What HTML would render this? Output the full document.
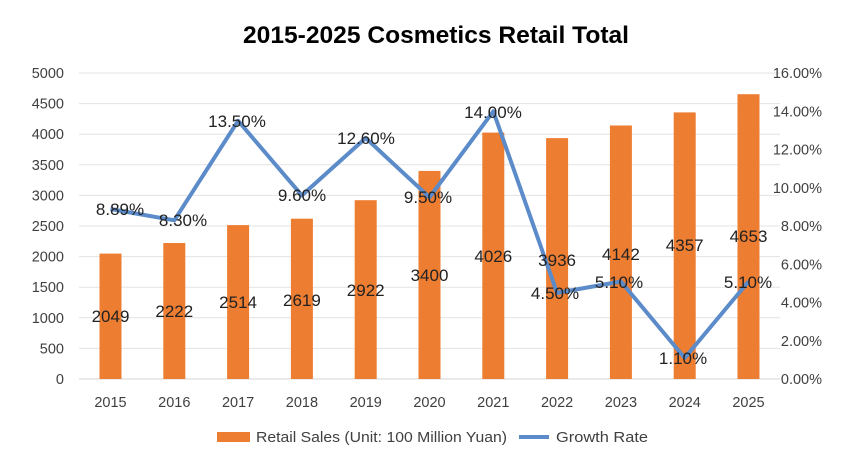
<!DOCTYPE html>
<html><head><meta charset="utf-8"><style>
html,body{margin:0;padding:0;background:#fff;}
svg{display:block;font-family:"Liberation Sans",sans-serif;}
</style></head><body>
<svg width="849" height="453" viewBox="0 0 849 453">
<text x="436" y="43" text-anchor="middle" font-size="24" font-weight="bold" fill="#000" textLength="386" lengthAdjust="spacingAndGlyphs">2015-2025 Cosmetics Retail Total</text>
<g stroke="#e3e3e3" stroke-width="1">
<line x1="79" y1="73" x2="780" y2="73"/><line x1="79" y1="103.6" x2="780" y2="103.6"/>
<line x1="79" y1="134.2" x2="780" y2="134.2"/><line x1="79" y1="164.8" x2="780" y2="164.8"/>
<line x1="79" y1="195.4" x2="780" y2="195.4"/><line x1="79" y1="226" x2="780" y2="226"/>
<line x1="79" y1="256.6" x2="780" y2="256.6"/><line x1="79" y1="287.2" x2="780" y2="287.2"/>
<line x1="79" y1="317.8" x2="780" y2="317.8"/><line x1="79" y1="348.4" x2="780" y2="348.4"/>
</g>
<line x1="79" y1="379" x2="780" y2="379" stroke="#d4d4d4" stroke-width="1"/>
<g font-size="14.5" fill="#404040" text-anchor="end">
<text x="64" y="78">5000</text><text x="64" y="108.6">4500</text><text x="64" y="139.2">4000</text>
<text x="64" y="169.8">3500</text><text x="64" y="200.4">3000</text><text x="64" y="231">2500</text>
<text x="64" y="261.6">2000</text><text x="64" y="292.2">1500</text><text x="64" y="322.8">1000</text>
<text x="64" y="353.4">500</text><text x="64" y="384">0</text>
</g>
<g font-size="14.5" fill="#404040" text-anchor="end">
<text x="822" y="78">16.00%</text><text x="822" y="116.3">14.00%</text><text x="822" y="154.5">12.00%</text>
<text x="822" y="192.8">10.00%</text><text x="822" y="231">8.00%</text><text x="822" y="269.3">6.00%</text>
<text x="822" y="307.5">4.00%</text><text x="822" y="345.8">2.00%</text><text x="822" y="384">0.00%</text>
</g>
<g fill="#ed7d31">
<rect x="99.5" y="253.6" width="22" height="125.4"/>
<rect x="163.3" y="243" width="22" height="136"/>
<rect x="227.1" y="225.1" width="22" height="153.9"/>
<rect x="290.9" y="218.7" width="22" height="160.3"/>
<rect x="354.7" y="200.2" width="22" height="178.8"/>
<rect x="418.5" y="170.9" width="22" height="208.1"/>
<rect x="482.3" y="132.6" width="22" height="246.4"/>
<rect x="546.1" y="138.1" width="22" height="240.9"/>
<rect x="609.9" y="125.5" width="22" height="253.5"/>
<rect x="673.7" y="112.4" width="22" height="266.6"/>
<rect x="737.5" y="94.2" width="22" height="284.8"/>
</g>
<g font-size="14.5" fill="#404040" text-anchor="middle">
<text x="110.5" y="407">2015</text><text x="174.3" y="407">2016</text><text x="238.1" y="407">2017</text>
<text x="301.9" y="407">2018</text><text x="365.7" y="407">2019</text><text x="429.5" y="407">2020</text>
<text x="493.3" y="407">2021</text><text x="557.1" y="407">2022</text><text x="620.9" y="407">2023</text>
<text x="684.7" y="407">2024</text><text x="748.5" y="407">2025</text>
</g>
<polyline fill="none" stroke="#5b8bc9" stroke-width="4" stroke-linejoin="round" points="110.5,209 174.3,220.3 238.1,120.8 301.9,195.4 365.7,138 429.5,197.3 493.3,111.3 557.1,292.9 620.9,281.5 684.7,358 748.5,281.5"/>
<g font-size="17" fill="#222" text-anchor="middle">
<text x="110.5" y="322">2049</text><text x="174.3" y="317">2222</text><text x="238.1" y="308">2514</text>
<text x="301.9" y="306">2619</text><text x="365.7" y="296">2922</text><text x="429.5" y="281">3400</text>
<text x="493.3" y="262">4026</text><text x="557.1" y="266">3936</text><text x="620.9" y="260">4142</text>
<text x="684.7" y="251">4357</text><text x="748.5" y="242">4653</text>
<text x="120" y="215">8.89%</text><text x="183" y="226">8.30%</text><text x="237" y="127">13.50%</text>
<text x="302" y="201">9.60%</text><text x="366" y="144">12.60%</text><text x="428" y="203">9.50%</text>
<text x="493" y="118">14.00%</text><text x="555" y="299">4.50%</text><text x="619" y="288">5.10%</text>
<text x="683" y="364">1.10%</text><text x="748" y="288">5.10%</text>
</g>
<rect x="217" y="432" width="33" height="10" fill="#ed7d31"/>
<text x="256" y="442" font-size="14.5" fill="#404040" textLength="251" lengthAdjust="spacingAndGlyphs">Retail Sales (Unit: 100 Million Yuan)</text>
<line x1="519" y1="437" x2="549" y2="437" stroke="#5b8bc9" stroke-width="4"/>
<text x="556" y="442" font-size="14.5" fill="#404040" textLength="92" lengthAdjust="spacingAndGlyphs">Growth Rate</text>
</svg>
</body></html>
